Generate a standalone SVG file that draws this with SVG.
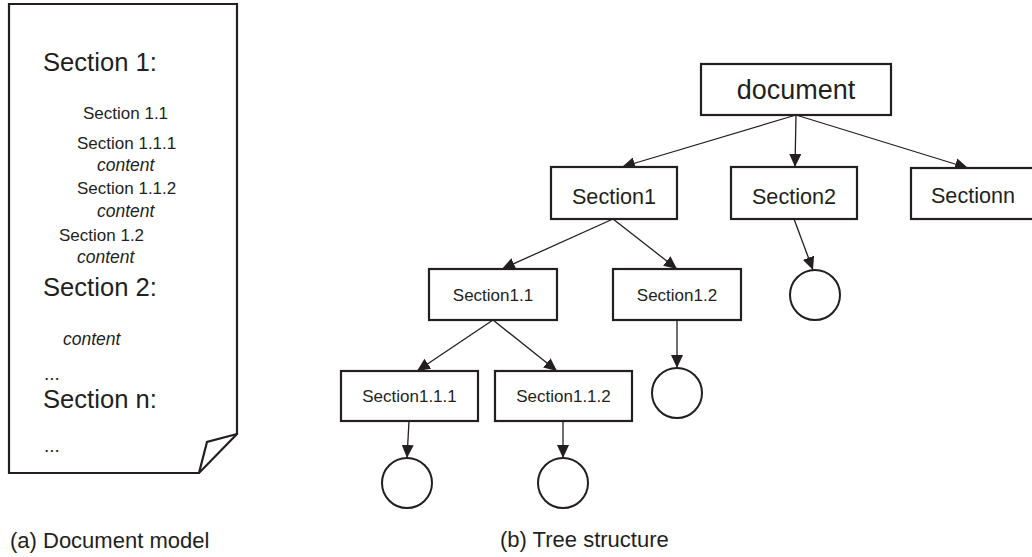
<svg xmlns="http://www.w3.org/2000/svg" width="1032" height="557" viewBox="0 0 1032 557">
<style>
text{font-family:"Liberation Sans",Arial,sans-serif;fill:#231f20}
.big{font-size:25.6px}
.dots{font-size:19px}
.sm{font-size:17px}
.it{font-size:17.5px;font-style:italic}
.box{fill:#fff;stroke:#231f20;stroke-width:2.2}
.lbl{font-size:21.6px;text-anchor:middle}
.lbls{font-size:17px;text-anchor:middle}
.cir{fill:#fff;stroke:#231f20;stroke-width:2}
.edge{stroke:#231f20;stroke-width:1.3;fill:none;marker-end:url(#ah)}
.cap{font-size:22px}
</style>
<defs>
<marker id="ah" viewBox="0 0 13 12" refX="13" refY="6" markerWidth="13" markerHeight="12" markerUnits="userSpaceOnUse" orient="auto">
<path d="M0,0 L13,6 L0,12 Z" fill="#231f20"/>
</marker>
</defs>
<g id="page">
<path d="M9,4 H237 V434 L199,473 H9 Z" fill="#fff" stroke="#231f20" stroke-width="2.2" stroke-linejoin="miter"/>
<path d="M237,434 L207,442 L199,473" fill="none" stroke="#231f20" stroke-width="2.2"/>
<text class="big" x="43" y="71">Section 1:</text>
<text class="sm" x="83" y="119">Section 1.1</text>
<text class="sm" x="77" y="149">Section 1.1.1</text>
<text class="it" x="97" y="171">content</text>
<text class="sm" x="77" y="194">Section 1.1.2</text>
<text class="it" x="97" y="217">content</text>
<text class="sm" x="59" y="241">Section 1.2</text>
<text class="it" x="77" y="263">content</text>
<text class="big" x="43" y="296">Section 2:</text>
<text class="it" x="63" y="345">content</text>
<text class="dots" x="44" y="380">...</text>
<text class="big" x="43" y="408">Section n:</text>
<text class="dots" x="44" y="452">...</text>
</g>
<g id="connectors">
<line class="edge" x1="796" y1="115" x2="622" y2="167"/>
<line class="edge" x1="796" y1="115" x2="795" y2="167"/>
<line class="edge" x1="796" y1="115" x2="968" y2="168"/>
<line class="edge" x1="613" y1="219" x2="502" y2="269"/>
<line class="edge" x1="613" y1="219" x2="677" y2="269"/>
<line class="edge" x1="794" y1="219" x2="813" y2="270"/>
<line class="edge" x1="493" y1="320" x2="417" y2="371"/>
<line class="edge" x1="493" y1="320" x2="557" y2="371"/>
<line class="edge" x1="677" y1="320" x2="677" y2="368"/>
<line class="edge" x1="409" y1="421" x2="407" y2="458"/>
<line class="edge" x1="563" y1="421" x2="563" y2="458"/>
</g>
<g id="document">
<rect class="box" x="701" y="64" width="190" height="51"/>
<text x="796" y="99" style="font-size:27px;text-anchor:middle">document</text>
</g>
<g id="section1">
<rect class="box" x="551" y="167" width="126" height="52"/>
<text class="lbl" x="614" y="204">Section1</text>
</g>
<g id="section2">
<rect class="box" x="731" y="167" width="126" height="52"/>
<text class="lbl" x="794" y="204">Section2</text>
</g>
<g id="sectionn">
<rect class="box" x="911" y="168" width="126" height="51"/>
<text class="lbl" x="973" y="203">Sectionn</text>
</g>
<g id="section1_1">
<rect class="box" x="429" y="269" width="128" height="51"/>
<text class="lbls" x="493" y="301">Section1.1</text>
</g>
<g id="section1_2">
<rect class="box" x="613" y="269" width="128" height="51"/>
<text class="lbls" x="677" y="301">Section1.2</text>
</g>
<g id="section1_1_1">
<rect class="box" x="341" y="371" width="137" height="50"/>
<text class="lbls" x="409.5" y="402">Section1.1.1</text>
</g>
<g id="section1_1_2">
<rect class="box" x="495" y="371" width="137" height="50"/>
<text class="lbls" x="563.5" y="402">Section1.1.2</text>
</g>
<g id="leaf_s2"><circle class="cir" cx="815" cy="295" r="25"/></g>
<g id="leaf_s12"><circle class="cir" cx="677" cy="393" r="25"/></g>
<g id="leaf_s111"><circle class="cir" cx="407" cy="483" r="25"/></g>
<g id="leaf_s112"><circle class="cir" cx="563" cy="483" r="25"/></g>
<g id="captions">
<text class="cap" x="10" y="548">(a) Document model</text>
<text class="cap" x="500" y="547">(b) Tree structure</text>
</g>
</svg>
